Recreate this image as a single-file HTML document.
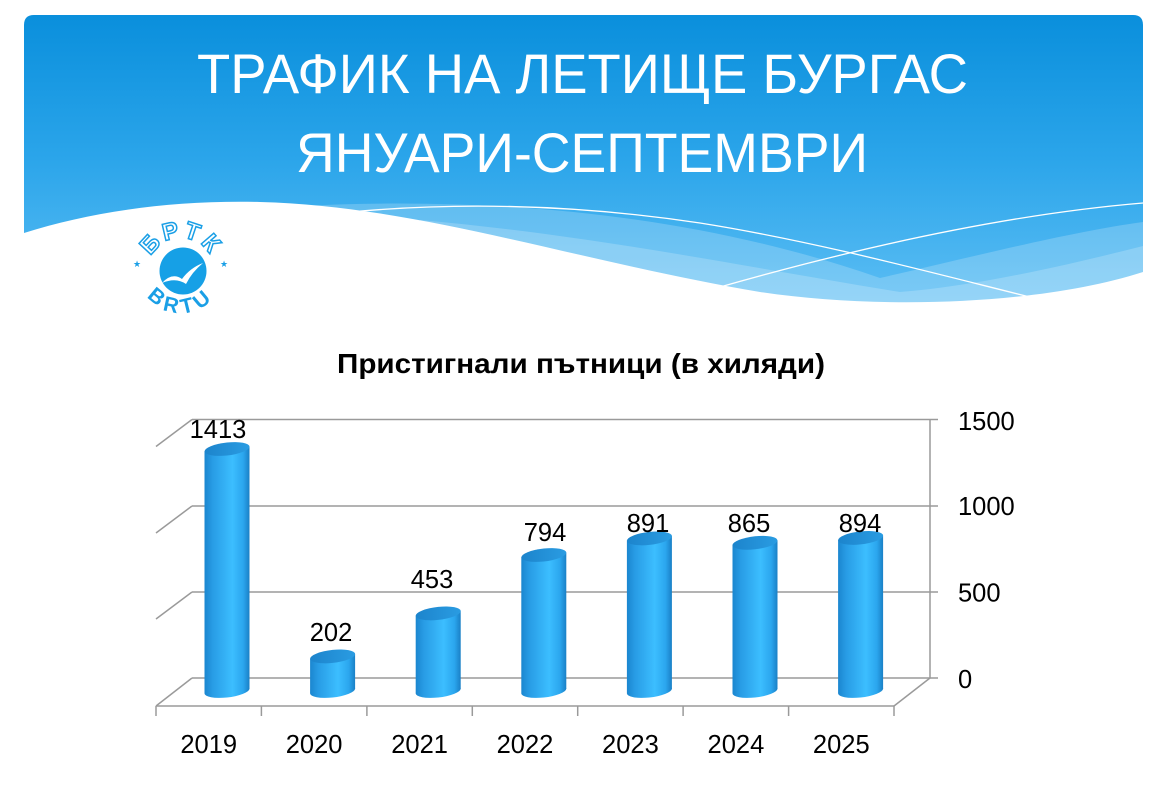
<!DOCTYPE html>
<html><head><meta charset="utf-8"><style>
html,body{margin:0;padding:0;background:#fff;}
svg{display:block;}
</style></head><body>
<svg width="1157" height="785" viewBox="0 0 1157 785" xmlns="http://www.w3.org/2000/svg">
<defs>
<linearGradient id="hdr" x1="0" y1="0" x2="0" y2="1">
<stop offset="0" stop-color="#0a8fdc"/>
<stop offset="0.45" stop-color="#2ba5ea"/>
<stop offset="1" stop-color="#66c3f6"/>
</linearGradient>
<clipPath id="hc"><path d="M24,25 Q24,15 34,15 L1133,15 Q1143,15 1143,25 L1143,330 L24,330 Z"/></clipPath>
<linearGradient id="bar" x1="0" y1="0" x2="1" y2="0">
<stop offset="0" stop-color="#1b86cf"/>
<stop offset="0.18" stop-color="#289ce5"/>
<stop offset="0.62" stop-color="#3cbeff"/>
<stop offset="0.86" stop-color="#2ba6ee"/>
<stop offset="1" stop-color="#1a80c6"/>
</linearGradient>
<linearGradient id="top" x1="0" y1="0" x2="1" y2="0">
<stop offset="0" stop-color="#1c84cc"/>
<stop offset="1" stop-color="#2a9ce2"/>
</linearGradient>
<path id="arcTop" d="M151.1,284.9 A33,33 0 1 1 210.9,284.9"/>
<path id="arcBot" d="M139.6,278.3 A42,42 0 0 0 222.4,278.3"/>
</defs>

<!-- header -->
<g clip-path="url(#hc)">
<rect x="24" y="15" width="1119" height="320" fill="url(#hdr)"/>
<path d="M300,206 C500,196 700,215 880,278 C980,255 1070,232 1143,222 L1143,330 L300,330 Z" fill="#fff" opacity="0.2"/>
<path d="M420,220 C600,236 750,268 900,292 C980,286 1080,262 1143,246 L1143,330 L420,330 Z" fill="#fff" opacity="0.2"/>
<path d="M24,233 C90,212 170,200 260,202 C420,206 580,262 760,292 C880,310 1040,305 1143,272 L1143,330 L24,330 Z" fill="#fff"/>
<path d="M350,212 C480,200 600,208 700,223 C820,242 940,275 1050,302" fill="none" stroke="#fff" stroke-width="1.3"/>
<path d="M720,287 C850,250 1000,215 1143,203" fill="none" stroke="#fff" stroke-width="1.3"/>
</g>
<text x="197" y="93" textLength="771" lengthAdjust="spacingAndGlyphs" font-family="Liberation Sans, DejaVu Sans, sans-serif" font-size="56" fill="#fff">ТРАФИК НА ЛЕТИЩЕ БУРГАС</text>
<text x="296" y="172" textLength="572" lengthAdjust="spacingAndGlyphs" font-family="Liberation Sans, DejaVu Sans, sans-serif" font-size="56" fill="#fff">ЯНУАРИ-СЕПТЕМВРИ</text>

<!-- logo -->
<g>
<circle cx="183" cy="271" r="23.5" fill="#16a0e6"/>
<path d="M162,283 Q172,272 182,279 Q190,268 203,263 Q192,272 186,284 Q176,277 162,283 Z" fill="#fff"/>
<text font-family="Liberation Sans, DejaVu Sans, sans-serif" font-size="24" font-weight="bold" fill="none" stroke="#1a9fe6" stroke-width="1.5"><textPath href="#arcTop" startOffset="50%" text-anchor="middle" letter-spacing="3">БРТК</textPath></text>
<text font-family="Liberation Sans, DejaVu Sans, sans-serif" font-size="21" font-weight="bold" fill="#1a9fe6"><textPath href="#arcBot" startOffset="50%" text-anchor="middle" letter-spacing="5">BRTU</textPath></text>
<text x="137" y="267" font-size="9" fill="#1a9fe6" font-family="DejaVu Sans, sans-serif" text-anchor="middle">★</text>
<text x="224" y="267" font-size="9" fill="#1a9fe6" font-family="DejaVu Sans, sans-serif" text-anchor="middle">★</text>
</g>

<!-- chart title -->
<text x="337" y="373" textLength="488" lengthAdjust="spacingAndGlyphs" font-family="Liberation Sans, DejaVu Sans, sans-serif" font-size="28" font-weight="bold" fill="#000">Пристигнали пътници (в хиляди)</text>

<!-- axes/grid -->
<g stroke="#9a9a9a" stroke-width="1.5" fill="none">
<line x1="192" y1="419.5" x2="938" y2="419.5"/>
<line x1="192" y1="506" x2="938" y2="506"/>
<line x1="192" y1="592" x2="938" y2="592"/>
<line x1="192" y1="678" x2="938" y2="678"/>
<line x1="156" y1="446.5" x2="192" y2="419.5"/>
<line x1="156" y1="533" x2="192" y2="506"/>
<line x1="156" y1="619" x2="192" y2="592"/>
<line x1="156" y1="706" x2="192" y2="678"/>
<line x1="930" y1="419.5" x2="930" y2="678"/>
<line x1="894" y1="706" x2="930" y2="678"/>
<line x1="156" y1="706" x2="894" y2="706"/>
<line x1="156" y1="706" x2="156" y2="716"/>
<line x1="261.4" y1="706" x2="261.4" y2="716"/>
<line x1="366.9" y1="706" x2="366.9" y2="716"/>
<line x1="472.3" y1="706" x2="472.3" y2="716"/>
<line x1="577.7" y1="706" x2="577.7" y2="716"/>
<line x1="683.1" y1="706" x2="683.1" y2="716"/>
<line x1="788.6" y1="706" x2="788.6" y2="716"/>
<line x1="894" y1="706" x2="894" y2="716"/>
</g>

<!-- bars -->
<g>
<g transform="translate(227,0) skewY(-6)">
<rect x="-22.5" y="449" width="45" height="242" fill="url(#bar)"/>
<ellipse cx="0" cy="691" rx="22.5" ry="6.5" fill="url(#bar)"/>
<ellipse cx="0" cy="449" rx="22.5" ry="6.5" fill="url(#top)"/>
</g>
<g transform="translate(332.6,0) skewY(-6)">
<rect x="-22.5" y="656.4" width="45" height="34.6" fill="url(#bar)"/>
<ellipse cx="0" cy="691" rx="22.5" ry="6.5" fill="url(#bar)"/>
<ellipse cx="0" cy="656.4" rx="22.5" ry="6.5" fill="url(#top)"/>
</g>
<g transform="translate(438.2,0) skewY(-6)">
<rect x="-22.5" y="613.4" width="45" height="77.6" fill="url(#bar)"/>
<ellipse cx="0" cy="691" rx="22.5" ry="6.5" fill="url(#bar)"/>
<ellipse cx="0" cy="613.4" rx="22.5" ry="6.5" fill="url(#top)"/>
</g>
<g transform="translate(543.8,0) skewY(-6)">
<rect x="-22.5" y="555" width="45" height="136" fill="url(#bar)"/>
<ellipse cx="0" cy="691" rx="22.5" ry="6.5" fill="url(#bar)"/>
<ellipse cx="0" cy="555" rx="22.5" ry="6.5" fill="url(#top)"/>
</g>
<g transform="translate(649.4,0) skewY(-6)">
<rect x="-22.5" y="538.4" width="45" height="152.6" fill="url(#bar)"/>
<ellipse cx="0" cy="691" rx="22.5" ry="6.5" fill="url(#bar)"/>
<ellipse cx="0" cy="538.4" rx="22.5" ry="6.5" fill="url(#top)"/>
</g>
<g transform="translate(755,0) skewY(-6)">
<rect x="-22.5" y="542.8" width="45" height="148.2" fill="url(#bar)"/>
<ellipse cx="0" cy="691" rx="22.5" ry="6.5" fill="url(#bar)"/>
<ellipse cx="0" cy="542.8" rx="22.5" ry="6.5" fill="url(#top)"/>
</g>
<g transform="translate(860.6,0) skewY(-6)">
<rect x="-22.5" y="537.9" width="45" height="153.1" fill="url(#bar)"/>
<ellipse cx="0" cy="691" rx="22.5" ry="6.5" fill="url(#bar)"/>
<ellipse cx="0" cy="537.9" rx="22.5" ry="6.5" fill="url(#top)"/>
</g>
</g>

<!-- data labels -->
<g font-family="Liberation Sans, DejaVu Sans, sans-serif" font-size="25.5" fill="#000" text-anchor="middle">
<text x="218" y="438">1413</text>
<text x="331" y="641">202</text>
<text x="432" y="588">453</text>
<text x="545" y="541">794</text>
<text x="648" y="532">891</text>
<text x="749" y="532">865</text>
<text x="860" y="532">894</text>
</g>

<!-- y axis labels -->
<g font-family="Liberation Sans, DejaVu Sans, sans-serif" font-size="25.5" fill="#000">
<text x="958" y="430">1500</text>
<text x="958" y="515">1000</text>
<text x="958" y="601.5">500</text>
<text x="958" y="688">0</text>
</g>

<!-- x axis labels -->
<g font-family="Liberation Sans, DejaVu Sans, sans-serif" font-size="25.5" fill="#000" text-anchor="middle">
<text x="208.7" y="753">2019</text>
<text x="314.1" y="753">2020</text>
<text x="419.6" y="753">2021</text>
<text x="525" y="753">2022</text>
<text x="630.4" y="753">2023</text>
<text x="735.9" y="753">2024</text>
<text x="841.3" y="753">2025</text>
</g>
</svg>
</body></html>
